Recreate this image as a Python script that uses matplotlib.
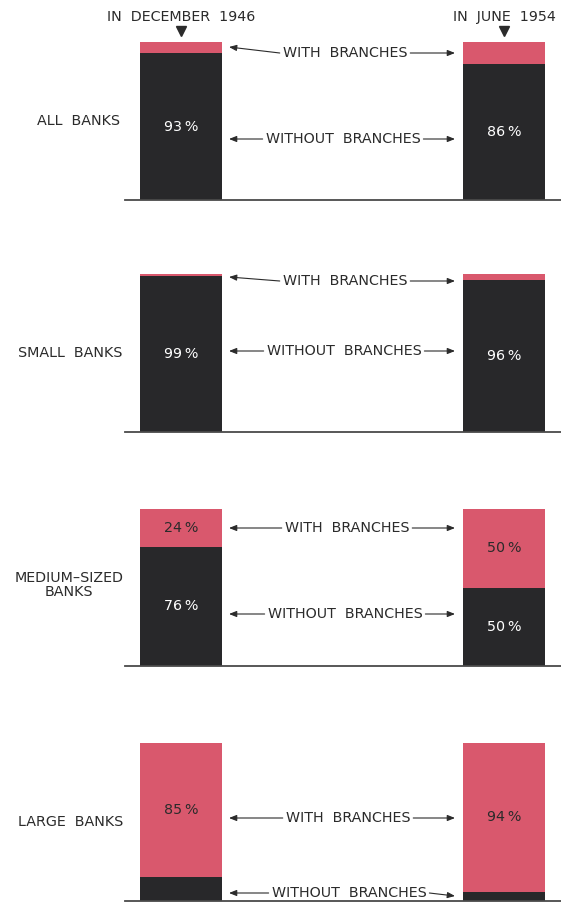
import matplotlib.pyplot as plt

# share of banks (percent) with / without branches
groups = ['ALL  BANKS', 'SMALL  BANKS', 'MEDIUM\u2013SIZED\nBANKS', 'LARGE  BANKS']
periods = ['IN  DECEMBER  1946', 'IN  JUNE  1954']
without_1946 = [93, 99, 76, 15]
without_1954 = [86, 96, 50, 6]
with_1946 = [7, 1, 24, 85]
with_1954 = [14, 4, 50, 94]

# which segments carry a printed label
show_without = [True, True, True, False]
show_with = [False, False, True, True]

RED = '#d9586d'
DARK = '#28282a'
TXT = '#2b2b2b'
FS = 10.3

W, H = 561, 902
fig = plt.figure(figsize=(W / 100, H / 100), dpi=100)

# panel pixel geometry: (top of 100%, baseline)
panels = [(42, 200), (274, 432), (509, 666), (743, 901)]
xpos = [181, 504.5]
bar_w = 82

for i, (top, base) in enumerate(panels):
    ax = fig.add_axes([0, 1 - base / H, 1, (base - top) / H])
    ax.set_xlim(0, W)
    ax.set_ylim(0, 100)
    ax.axis('off')
    wo = [without_1946[i], without_1954[i]]
    wi = [with_1946[i], with_1954[i]]
    ax.bar(xpos, wo, width=bar_w, color=DARK)
    ax.bar(xpos, wi, width=bar_w, bottom=wo, color=RED)
    ax.plot([125, W], [0, 0], color='#4a4a4a', lw=1.3, clip_on=False)
    for x, a, b in zip(xpos, wo, wi):
        if show_without[i]:
            ax.text(x, a / 2, f'{a}\u2009%', color='white', ha='center', va='center', fontsize=FS)
        if show_with[i]:
            ax.text(x, a + b / 2, f'{b}\u2009%', color=TXT, ha='center', va='center', fontsize=FS)

# overlay axes in pixel coordinates for headings, labels and arrows
ov = fig.add_axes([0, 0, 1, 1])
ov.set_xlim(0, W)
ov.set_ylim(H, 0)
ov.axis('off')
ov.patch.set_alpha(0)

for x, p in zip(xpos, periods):
    ov.text(x, 17, p, ha='center', va='center', fontsize=FS, color=TXT)
    ov.plot(x, 31, marker='v', color=TXT, ms=7)

label_y = [121, 353, 585, 822]
label_x = [79, 70, 69, 71]
for x, y, g in zip(label_x, label_y, groups):
    ov.text(x, y, g, ha='center', va='center', fontsize=FS, color=TXT, linespacing=1.0)

# (text y, left arrow tip y, right arrow tip y)
with_rows = [(53, 47, 53), (281, 277, 281), (528, 528, 528), (818, 818, 818)]
without_rows = [(139, 139, 139), (351, 351, 351), (614, 614, 614), (893, 893, 896)]
with_cx = [345, 345, 347, 348]
without_cx = [343, 344, 345, 349]

arrow = dict(arrowstyle='-|>,head_length=0.45,head_width=0.18', color=TXT, lw=0.8, shrinkA=0, shrinkB=0)
fig.canvas.draw()
inv = ov.transData.inverted()
for rows, cxs, txt in [(with_rows, with_cx, 'WITH  BRANCHES'), (without_rows, without_cx, 'WITHOUT  BRANCHES')]:
    for (ty, ly, ry), cx in zip(rows, cxs):
        t = ov.text(cx, ty, txt, ha='center', va='center', fontsize=FS, color=TXT)
        bb = t.get_window_extent(fig.canvas.get_renderer())
        lx = inv.transform((bb.x0, bb.y0))[0]
        rx = inv.transform((bb.x1, bb.y0))[0]
        ov.annotate('', xy=(229, ly), xytext=(lx - 3, ty), arrowprops=arrow)
        ov.annotate('', xy=(455, ry), xytext=(rx + 3, ty), arrowprops=arrow)

fig.savefig('out.png', dpi=100)
